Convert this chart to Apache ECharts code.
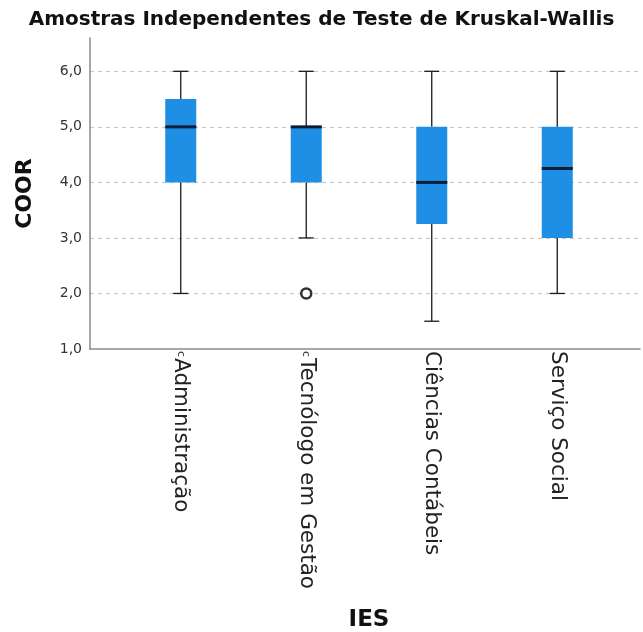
<!DOCTYPE html>
<html>
<head>
<meta charset="utf-8">
<script src="https://cdn.jsdelivr.net/npm/echarts@6/dist/echarts.min.js"></script>
<style>html,body{margin:0;padding:0;background:#fff}#c{width:643px;height:632px}</style>
</head>
<body>
<div id="c"></div>
<script>
const categories = ['Administração', 'Tecnólogo em Gestão', 'Ciências Contábeis', 'Serviço Social'];
const caseMarks = ['c', 'c', '', ''];
const whiskerLow = [2, 3, 1.5, 2];
const q1 = [4, 4, 3.25, 3];
const median = [5, 5, 4, 4.25];
const q3 = [5.5, 5, 5, 5];
const whiskerHigh = [6, 6, 6, 6];
const outlierCat = [1];
const outlierVal = [2.0];
const yMin = 1, yMax = 6.6, yInterval = 1;

const FONT = 'DejaVu Sans';
const boxData = categories.map((c, i) => [i, whiskerLow[i], q1[i], median[i], q3[i], whiskerHigh[i]]);
const outData = outlierCat.map((c, i) => [c, outlierVal[i]]);

const chart = echarts.init(document.getElementById('c'), null, {renderer: 'canvas'});
chart.setOption({
  animation: false,
  backgroundColor: '#fff',
  title: {
    text: 'Amostras Independentes de Teste de Kruskal-Wallis',
    left: 'center', top: 5,
    textStyle: {fontFamily: FONT, fontSize: 20, fontWeight: 'bold', color: '#111'}
  },
  grid: [
    {left: 90, right: 3, top: 38, bottom: 283, containLabel: false, outerBoundsMode: 'none'},
    {left: 118, right: 23, top: 38, bottom: 283, containLabel: false, outerBoundsMode: 'none'}
  ],
  xAxis: [
    {gridIndex: 0, type: 'value', min: 0, max: 1,
     axisLine: {show: true, onZero: false, lineStyle: {color: '#8a8a8a', width: 1.5}},
     axisTick: {show: false}, axisLabel: {show: false}, splitLine: {show: false}},
    {gridIndex: 1, type: 'category', data: categories,
     axisLine: {show: false}, axisTick: {show: false}, splitLine: {show: false},
     name: 'IES', nameLocation: 'middle', nameGap: 260,
     nameTextStyle: {fontFamily: FONT, fontSize: 23, fontWeight: 'bold', color: '#111'},
     axisLabel: {
       rotate: -90, margin: 2, interval: 0,
       formatter: (v, idx) => (caseMarks[idx] ? '{m|' + caseMarks[idx] + '}' : '') + '{n|' + v + '}',
       rich: {
         m: {fontFamily: FONT, fontSize: 11, color: '#333', padding: [0, 1, 0, 0]},
         n: {fontFamily: FONT, fontSize: 21.5, color: '#222'}
       }
     }}
  ],
  yAxis: [
    {gridIndex: 0, type: 'value', min: yMin, max: yMax, interval: yInterval,
     name: 'COOR', nameLocation: 'middle', nameGap: 54,
     nameTextStyle: {fontFamily: FONT, fontSize: 22, fontWeight: 'bold', color: '#111'},
     axisLine: {show: true, lineStyle: {color: '#8a8a8a', width: 1.5}},
     axisTick: {show: false},
     axisLabel: {showMaxLabel: false, margin: 8, fontFamily: FONT, fontSize: 14, color: '#333',
       formatter: v => v.toFixed(1).replace('.', ',')},
     splitLine: {show: true, showMinLine: false, showMaxLine: false,
       lineStyle: {color: '#c8c8c8', type: [4, 4], width: 1.2}}},
    {gridIndex: 1, type: 'value', min: yMin, max: yMax, interval: yInterval, show: false,
     splitLine: {show: false}}
  ],
  series: [
    {
      type: 'custom', xAxisIndex: 1, yAxisIndex: 1, data: boxData,
      renderItem: function (params, api) {
        const x = api.value(0);
        const pLo = api.coord([x, api.value(1)]);
        const pQ1 = api.coord([x, api.value(2)]);
        const pMed = api.coord([x, api.value(3)]);
        const pQ3 = api.coord([x, api.value(4)]);
        const pHi = api.coord([x, api.value(5)]);
        const cx = pLo[0];
        const bw = 31, cw = 15;
        const line = {stroke: '#1a1a1a', lineWidth: 1.3};
        return {
          type: 'group',
          children: [
            {type: 'line', shape: {x1: cx, y1: pLo[1], x2: cx, y2: pQ1[1]}, style: line},
            {type: 'line', shape: {x1: cx, y1: pQ3[1], x2: cx, y2: pHi[1]}, style: line},
            {type: 'line', shape: {x1: cx - cw / 2, y1: pLo[1], x2: cx + cw / 2, y2: pLo[1]}, style: line},
            {type: 'line', shape: {x1: cx - cw / 2, y1: pHi[1], x2: cx + cw / 2, y2: pHi[1]}, style: line},
            {type: 'rect', shape: {x: cx - bw / 2, y: pQ3[1], width: bw, height: pQ1[1] - pQ3[1]},
             style: {fill: '#1f8fe6', stroke: null}},
            {type: 'line', shape: {x1: cx - bw / 2, y1: pMed[1], x2: cx + bw / 2, y2: pMed[1]},
             style: {stroke: '#0a1e38', lineWidth: 3}}
          ]
        };
      }
    },
    {
      type: 'scatter', xAxisIndex: 1, yAxisIndex: 1, data: outData,
      symbol: 'circle', symbolSize: 10,
      itemStyle: {color: '#fff', borderColor: '#000', borderWidth: 2.5}
    }
  ]
});
</script>
</body>
</html>
